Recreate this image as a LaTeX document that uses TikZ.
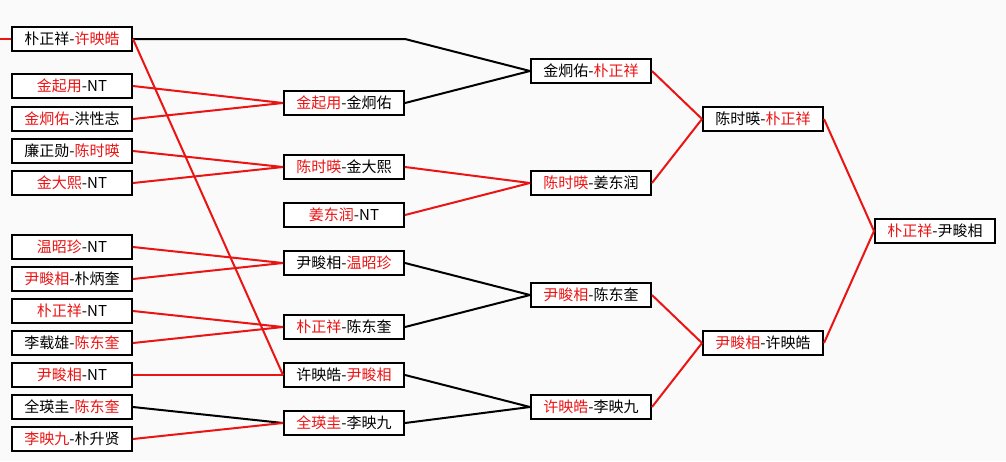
\documentclass[tikz,border=0pt]{standalone}
\usepackage{fontspec}
\newfontfamily\cjk{Noto Sans CJK SC}
\definecolor{winred}{RGB}{235,20,20}
\newcommand{\R}[1]{\textcolor{winred}{#1}}

\begin{document}
\begin{tikzpicture}[x=1pt, y=-1pt, font=\cjk\fontsize{15}{15}\selectfont,
  match/.style={draw, line width=2pt, minimum width=120pt, minimum height=24pt, inner sep=0pt, fill=white},
  win/.style={winred, line width=2pt},
  lose/.style={black, line width=2pt}]
  \useasboundingbox[fill=gray!4] (0,0) rectangle (1006,461);

  % --- primera columna ---
  \node[match] (a1) at (72,39) {朴正祥-\R{许映皓}};
  \node[match] (a2) at (72,86) {\R{金起用}-NT};
  \node[match] (a3) at (72,119) {\R{金炯佑}-洪性志};
  \node[match] (a4) at (72,151) {廉正勋-\R{陈时暎}};
  \node[match] (a5) at (72,183) {\R{金大熙}-NT};
  \node[match] (a6) at (72,247) {\R{温昭珍}-NT};
  \node[match] (a7) at (72,279) {\R{尹畯相}-朴炳奎};
  \node[match] (a8) at (72,311) {\R{朴正祥}-NT};
  \node[match] (a9) at (72,343) {李载雄-\R{陈东奎}};
  \node[match] (a10) at (72,375) {\R{尹畯相}-NT};
  \node[match] (a11) at (72,407) {全瑛圭-\R{陈东奎}};
  \node[match] (a12) at (72,439) {\R{李映九}-朴升贤};

  % --- segunda columna ---
  \node[match] (b1) at (344,103) {\R{金起用}-金炯佑};
  \node[match] (b2) at (344,167) {\R{陈时暎}-金大熙};
  \node[match] (b3) at (344,215) {\R{姜东润}-NT};
  \node[match] (b4) at (344,263) {尹畯相-\R{温昭珍}};
  \node[match] (b5) at (344,327) {\R{朴正祥}-陈东奎};
  \node[match] (b6) at (344,375) {许映皓-\R{尹畯相}};
  \node[match] (b7) at (344,423) {\R{全瑛圭}-李映九};

  % --- tercera, cuarta y final ---
  \node[match] (c1) at (591,71) {金炯佑-\R{朴正祥}};
  \node[match] (c2) at (591,183) {\R{陈时暎}-姜东润};
  \node[match] (c3) at (591,295) {\R{尹畯相}-陈东奎};
  \node[match] (c4) at (591,407) {\R{许映皓}-李映九};
  \node[match] (d1) at (763,119) {陈时暎-\R{朴正祥}};
  \node[match] (d2) at (763,343) {\R{尹畯相}-许映皓};
  \node[match] (fin) at (935,231) {\R{朴正祥}-尹畯相};

  % --- lineas ---
  \coordinate (in) at (0,39);
  \coordinate (bend) at (405,39);
  \draw[win] (in) -- (a1.west);
  \draw[lose] (a1.east) -- (bend) -- (c1.west);
  \draw[win] (a1.east) -- (b6.west);
  \draw[win] (a2.east) -- (b1.west) (a3.east) -- (b1.west);
  \draw[win] (a4.east) -- (b2.west) (a5.east) -- (b2.west);
  \draw[win] (a6.east) -- (b4.west) (a7.east) -- (b4.west);
  \draw[win] (a8.east) -- (b5.west) (a9.east) -- (b5.west);
  \draw[win] (a10.east) -- (b6.west);
  \draw[lose] (a11.east) -- (b7.west);
  \draw[win] (a12.east) -- (b7.west);
  \draw[lose] (b1.east) -- (c1.west);
  \draw[win] (b2.east) -- (c2.west) (b3.east) -- (c2.west);
  \draw[lose] (b4.east) -- (c3.west) (b5.east) -- (c3.west);
  \draw[lose] (b6.east) -- (c4.west) (b7.east) -- (c4.west);
  \draw[win] (c1.east) -- (d1.west) (c2.east) -- (d1.west);
  \draw[win] (c3.east) -- (d2.west) (c4.east) -- (d2.west);
  \draw[win] (d1.east) -- (fin.west) (d2.east) -- (fin.west);
\end{tikzpicture}
\end{document}
